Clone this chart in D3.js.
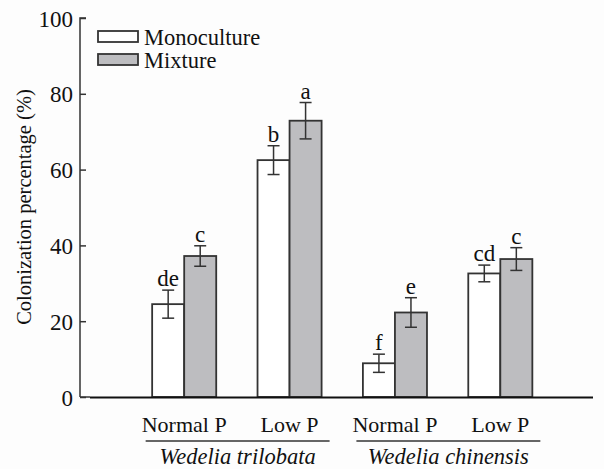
<!DOCTYPE html>
<html><head><meta charset="utf-8">
<script src="https://cdn.jsdelivr.net/npm/d3@7"></script>
<style>body{margin:0;background:#fdfdfd}svg{display:block}</style>
</head><body>
<script>
const groups = ["WT-Normal P","WT-Low P","WC-Normal P","WC-Low P"];
const groupLabels = ["Normal P","Low P","Normal P","Low P"];
const series = ["Monoculture","Mixture"];
const mono = [24.5, 62.5, 8.9, 32.6];
const monoErr = [3.7, 3.8, 2.4, 2.2];
const mix = [37.2, 72.9, 22.3, 36.4];
const mixErr = [2.7, 4.8, 3.9, 3.0];
const monoLetters = ["de","b","f","cd"];
const mixLetters = ["c","a","e","c"];
const species = ["Wedelia trilobata","Wedelia chinensis"];
const yTicks = [0,20,40,60,80,100];

const FONT="Liberation Serif";
const W=604,H=469;
const svg=d3.select("body").append("svg").attr("width",W).attr("height",H);
svg.append("rect").attr("width",W).attr("height",H).attr("fill","#fdfdfd");
const y=d3.scaleLinear().domain([0,100]).range([397,18]);
const x=d3.scaleBand().domain(groups).range([131.5,553]).paddingInner(0.392).paddingOuter(0.196);
const xs=d3.scaleBand().domain(series).range([0,x.bandwidth()]);
const colors={Monoculture:"#ffffff",Mixture:"#bdbdc0"};
const stroke="#333";
const T=(sel,size)=>sel.attr("font-family",FONT).attr("font-size",size).attr("fill","#111");

const yAxis=d3.axisRight(y).tickValues(yTicks).tickSize(6).tickFormat(d3.format("d"));
const ga=svg.append("g").attr("transform","translate(80,0)").call(yAxis);
ga.attr("font-family",FONT);
ga.select(".domain").attr("stroke",stroke).attr("stroke-width",1.5).attr("d","M6,18H0V397");
ga.selectAll(".tick line").attr("stroke",stroke).attr("stroke-width",1.5);
T(ga.selectAll(".tick text").attr("x",-7).attr("text-anchor","end").attr("dy","0.35em"),23);

const data=groups.map((g,i)=>({g,vals:[
  {s:"Monoculture",v:mono[i],e:monoErr[i],l:monoLetters[i]},
  {s:"Mixture",v:mix[i],e:mixErr[i],l:mixLetters[i]}]}));

const gg=svg.selectAll(".grp").data(data).join("g").attr("transform",d=>`translate(${x(d.g)},0)`);
const b=gg.selectAll(".bar").data(d=>d.vals).join("g");
b.append("rect").attr("x",d=>xs(d.s)).attr("width",xs.bandwidth()).attr("y",d=>y(d.v))
 .attr("height",d=>y(0)-y(d.v)).attr("fill",d=>colors[d.s]).attr("stroke",stroke).attr("stroke-width",1.8);
const cx=d=>xs(d.s)+xs.bandwidth()/2;
b.append("line").attr("x1",cx).attr("x2",cx).attr("y1",d=>y(d.v+d.e)).attr("y2",d=>y(d.v-d.e)).attr("stroke",stroke).attr("stroke-width",1.5);
b.append("line").attr("x1",d=>cx(d)-6).attr("x2",d=>cx(d)+6).attr("y1",d=>y(d.v+d.e)).attr("y2",d=>y(d.v+d.e)).attr("stroke",stroke).attr("stroke-width",1.5);
b.append("line").attr("x1",d=>cx(d)-6).attr("x2",d=>cx(d)+6).attr("y1",d=>y(d.v-d.e)).attr("y2",d=>y(d.v-d.e)).attr("stroke",stroke).attr("stroke-width",1.5);
T(b.append("text").attr("x",cx).attr("y",d=>y(d.v+d.e)-4).attr("text-anchor","middle").text(d=>d.l),23);

svg.append("line").attr("x1",80).attr("x2",90).attr("y1",397).attr("y2",397).attr("stroke",stroke).attr("stroke-width",1.5);
svg.append("line").attr("x1",90).attr("x2",593).attr("y1",397.5).attr("y2",397.5).attr("stroke","#111").attr("stroke-width",2.2);

T(svg.selectAll(".gl").data(groups).join("text").attr("x",d=>x(d)+x.bandwidth()/2).attr("y",432)
  .attr("text-anchor","middle").text((d,i)=>groupLabels[i]),22);
[[0,1],[2,3]].forEach((p,k)=>{
  const x1=x(groups[p[0]])-6.5, x2=x(groups[p[1]])+x.bandwidth()+8;
  svg.append("line").attr("x1",x1).attr("x2",x2).attr("y1",441).attr("y2",441).attr("stroke",stroke).attr("stroke-width",1.5);
  T(svg.append("text").attr("x",(x1+x2)/2).attr("y",464).attr("text-anchor","middle").attr("font-style","italic").text(species[k]),22.5);
});

series.forEach((s,i)=>{
  const ly=31+i*23;
  svg.append("rect").attr("x",98).attr("y",ly).attr("width",40).attr("height",11).attr("fill",colors[s]).attr("stroke",stroke).attr("stroke-width",1.8);
  T(svg.append("text").attr("x",144).attr("y",ly+14).text(s),22.5);
});

T(svg.append("text").attr("transform","translate(31,207) rotate(-90)").attr("text-anchor","middle").text("Colonization percentage (%)"),20.5);
</script>
</body></html>
